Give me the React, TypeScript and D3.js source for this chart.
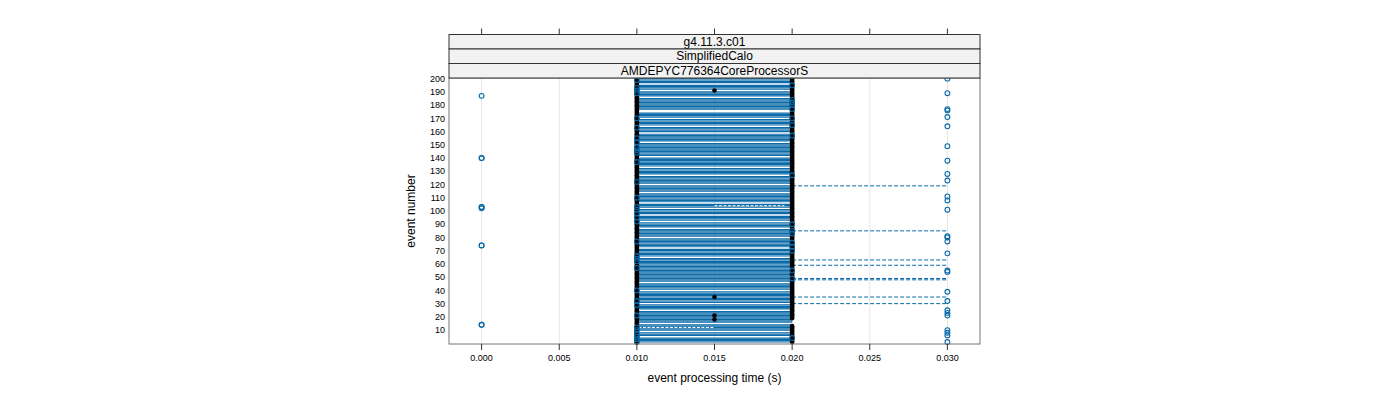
import React from "react";
import * as d3 from "d3";

// ---- data ----
const stripLabels = ["g4.11.3.c01", "SimplifiedCalo", "AMDEPYC776364CoreProcessorS"];
const xTicks = [0, 0.005, 0.01, 0.015, 0.02, 0.025, 0.03];
const yTicks = [10, 20, 30, 40, 50, 60, 70, 80, 90, 100, 110, 120, 130, 140, 150, 160, 170, 180, 190, 200];

const allEvents = d3.range(1, 201);
// events whose main segment (0.010 -> 0.020) is missing
const segmentGaps = [196, 191, 186, 176, 175, 170, 164, 159, 152, 141, 133, 127, 120, 114, 106, 102, 97, 92, 87, 80, 72, 65, 46, 40, 30, 25, 15, 9, 5];
const segStart = 0.01;
const segEnd = 0.02;
// events with black dots missing at 0.020
const dots020Missing = [14, 15, 16, 17, 18];
const dots015 = [191, 35, 21, 18];
// repeated events = overlapping points
const circles000 = [187, 140, 140, 103, 103, 102, 74, 74, 14, 14];
const circles010 = [199, 193, 191, 189, 170, 163, 155, 152, 148, 146, 144, 137, 122, 110, 103, 101, 98, 95, 92, 77, 66, 64, 62, 57, 40, 32, 29, 21, 12, 10, 7, 5, 3, 1];
const circles020 = [195, 184, 182, 180, 177, 170, 165, 157, 127, 90, 85, 83, 76, 73, 70, 55, 49, 4];
const circles030 = [200, 189, 177, 176, 171, 164, 149, 138, 128, 123, 111, 108, 101, 81, 80, 77, 68, 55, 54, 39, 32, 25, 23, 21, 10, 8, 6, 1];
const dashedEvents = [119, 85, 63, 59, 49, 48, 35, 30];
const whiteDashed = [
  { ev: 104, from: 0.015, to: 0.0195 },
  { ev: 12, from: 0.0101, to: 0.015 },
];

const BLUE = "#0b6aa8";
const FONT = "Liberation Sans, Arial, sans-serif";

export default function App() {
  const left = 449, right = 980, top = 78, bottom = 344;
  const x = d3.scaleLinear().domain([-0.0021, 0.0321]).range([left, right]);
  const y = d3.scaleLinear().domain([-0.5, 200.5]).range([bottom, top]);
  const stripH = 14.5;
  const fmt = d3.format(".3f");
  const cx = (left + right) / 2;

  const segEvents = allEvents.filter((e) => !segmentGaps.includes(e));
  const dots020 = allEvents.filter((e) => !dots020Missing.includes(e));

  const circle = (v: number, e: number, k: string) => (
    <circle key={k} cx={x(v)} cy={y(e)} r={2.4} fill="none" stroke={BLUE} strokeWidth={1.1} />
  );
  const dot = (v: number, e: number, k: string) => (
    <circle key={k} cx={x(v)} cy={y(e)} r={2.3} fill="#000" />
  );

  return (
    <svg width={1400} height={400} style={{ position: "absolute", left: 0, top: 0 }} fontFamily={FONT}>
      <rect width={1400} height={400} fill="#fff" />
      {/* grid */}
      {xTicks.map((t) => (
        <line key={"g" + t} x1={x(t)} x2={x(t)} y1={top} y2={bottom} stroke="#e6e6e6" strokeWidth={1} />
      ))}
      {/* solid segments */}
      {segEvents.map((e) => (
        <line key={"s" + e} x1={x(segStart)} x2={x(segEnd)} y1={y(e)} y2={y(e)} stroke={BLUE} strokeWidth={1.2} />
      ))}
      {/* dashed segments */}
      {dashedEvents.map((e) => (
        <line key={"d" + e} x1={x(segEnd)} x2={x(0.03)} y1={y(e)} y2={y(e)} stroke={BLUE} strokeWidth={1} strokeDasharray="4,2" />
      ))}
      {whiteDashed.map((w) => (
        <line key={"w" + w.ev} x1={x(w.from)} x2={x(w.to)} y1={y(w.ev)} y2={y(w.ev)} stroke="#fff" strokeWidth={1} strokeDasharray="3,1.5" />
      ))}
      {/* black dots */}
      {allEvents.map((e) => dot(0.01, e, "a" + e))}
      {dots020.map((e) => dot(0.02, e, "b" + e))}
      {dots015.map((e) => dot(0.015, e, "c" + e))}
      {/* blue circles */}
      {circles000.map((e, i) => circle(0, e, "o0" + i))}
      {circles010.map((e, i) => circle(0.01, e, "o1" + i))}
      {circles020.map((e, i) => circle(0.02, e, "o2" + i))}
      {circles030.map((e, i) => circle(0.03, e, "o3" + i))}
      {/* panel border */}
      <rect x={left} y={top} width={right - left} height={bottom - top} fill="none" stroke="#777" strokeWidth={1} />
      {/* strips */}
      {stripLabels.map((s, i) => {
        const sy = top - stripH * (stripLabels.length - i);
        return (
          <g key={s}>
            <rect x={left} y={sy} width={right - left} height={stripH} fill="#f2f2f2" stroke="#333" strokeWidth={1} />
            <text x={cx} y={sy + stripH / 2 + 4} textAnchor="middle" fontSize={12} fill="#000">{s}</text>
          </g>
        );
      })}
      {/* top ticks */}
      {xTicks.map((t) => (
        <line key={"tt" + t} x1={x(t)} x2={x(t)} y1={top - stripH * 3} y2={top - stripH * 3 - 6} stroke="#333" strokeWidth={1} />
      ))}
      {/* bottom ticks & labels */}
      {xTicks.map((t) => (
        <g key={"bt" + t}>
          <line x1={x(t)} x2={x(t)} y1={bottom} y2={bottom + 6} stroke="#333" strokeWidth={1} />
          <text x={x(t)} y={bottom + 17} textAnchor="middle" fontSize={9} fill="#000">{fmt(t)}</text>
        </g>
      ))}
      {/* y labels */}
      {yTicks.map((t) => (
        <text key={"yl" + t} x={left - 4} y={y(t) + 3.2} textAnchor="end" fontSize={9} fill="#000">{t}</text>
      ))}
      <text x={cx} y={382} textAnchor="middle" fontSize={12} fill="#000">event processing time (s)</text>
      <text transform={`translate(415,${(top + bottom) / 2}) rotate(-90)`} textAnchor="middle" fontSize={12} fill="#000">event number</text>
    </svg>
  );
}
